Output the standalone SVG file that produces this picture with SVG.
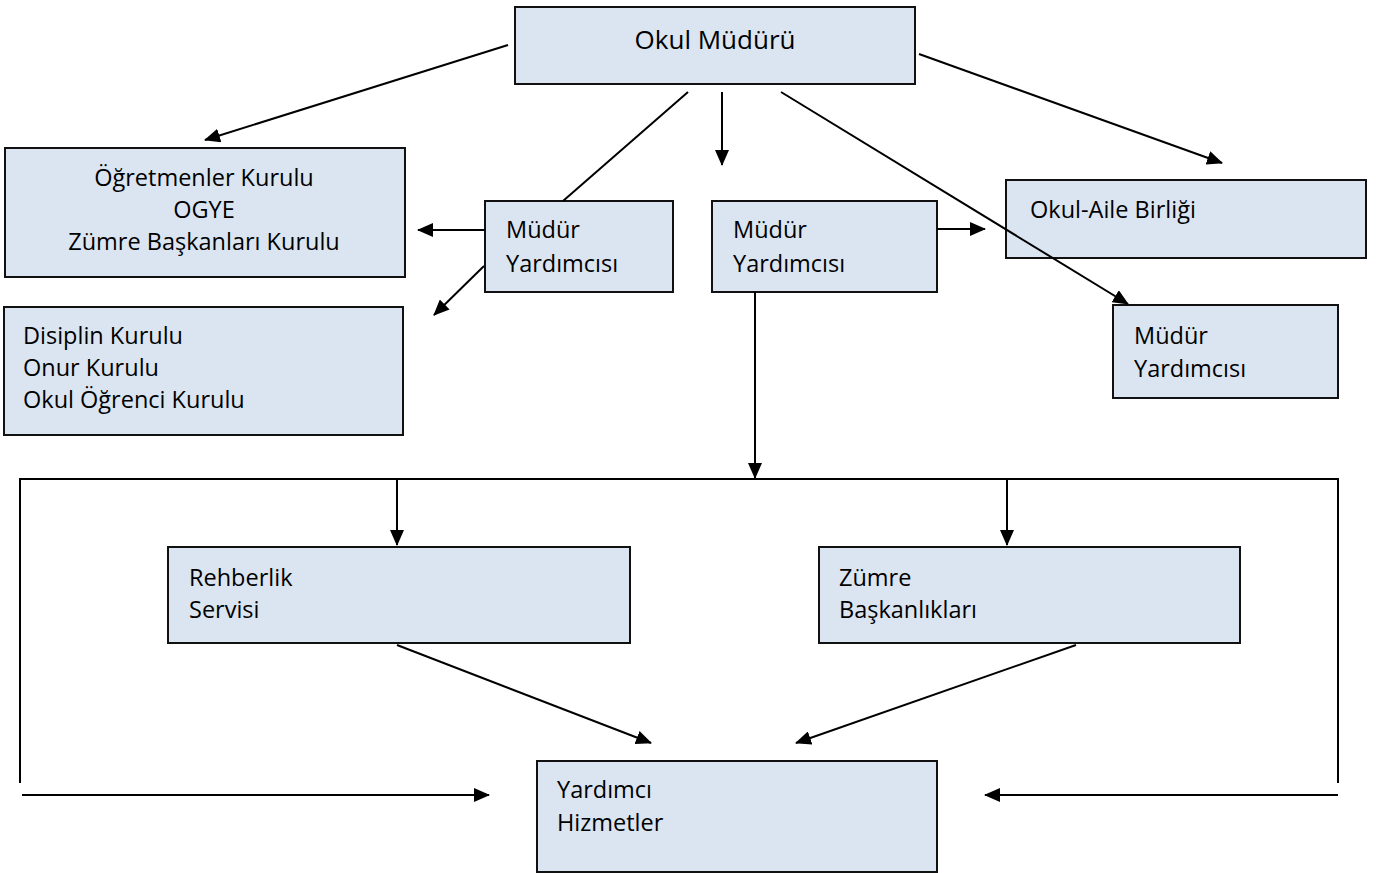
<svg xmlns="http://www.w3.org/2000/svg" width="1379" height="873" viewBox="0 0 1379 873">
<defs>
<marker id="ah" markerUnits="userSpaceOnUse" markerWidth="16" markerHeight="14" refX="15" refY="7" orient="auto">
<path d="M0,0 L16,7 L0,14 z" fill="#000"/>
</marker>
<style>
.box{fill:#dbe5f1;stroke:#111;stroke-width:2}
.t{font-family:"Open Sans","Liberation Sans",sans-serif;font-size:23.5px;fill:#000}
.c{text-anchor:middle}
.ln{stroke:#000;stroke-width:2;fill:none}
.ar{stroke:#000;stroke-width:2;fill:none;marker-end:url(#ah)}
</style>
</defs>
<rect width="1379" height="873" fill="#fff"/>
<g id="okul-muduru">
<rect class="box" x="515" y="7" width="400" height="77"/>
<text class="t c" x="715" y="49" style="font-size:26px">Okul Müdürü</text>
</g>
<g id="ogretmenler-kurulu">
<rect class="box" x="5" y="148" width="400" height="129"/>
<text class="t c" x="204" y="186">Öğretmenler Kurulu</text>
<text class="t c" x="204" y="218">OGYE</text>
<text class="t c" x="204" y="250">Zümre Başkanları Kurulu</text>
</g>
<g id="disiplin-kurulu">
<rect class="box" x="4" y="307" width="399" height="128"/>
<text class="t" x="23" y="344">Disiplin Kurulu</text>
<text class="t" x="23" y="376">Onur Kurulu</text>
<text class="t" x="23" y="408">Okul Öğrenci Kurulu</text>
</g>
<g id="mudur-yardimcisi-1">
<rect class="box" x="485" y="201" width="188" height="91"/>
<text class="t" x="506" y="238">Müdür</text>
<text class="t" x="506" y="272">Yardımcısı</text>
</g>
<g id="mudur-yardimcisi-2">
<rect class="box" x="712" y="201" width="225" height="91"/>
<text class="t" x="733" y="238">Müdür</text>
<text class="t" x="733" y="272">Yardımcısı</text>
</g>
<g id="okul-aile-birligi">
<rect class="box" x="1006" y="180" width="360" height="78"/>
<text class="t" x="1030" y="218">Okul-Aile Birliği</text>
</g>
<g id="mudur-yardimcisi-3">
<rect class="box" x="1113" y="305" width="225" height="93"/>
<text class="t" x="1134" y="344">Müdür</text>
<text class="t" x="1134" y="377">Yardımcısı</text>
</g>
<g id="rehberlik-servisi">
<rect class="box" x="168" y="547" width="462" height="96"/>
<text class="t" x="189" y="586">Rehberlik</text>
<text class="t" x="189" y="618">Servisi</text>
</g>
<g id="zumre-baskanliklari">
<rect class="box" x="819" y="547" width="421" height="96"/>
<text class="t" x="839" y="586">Zümre</text>
<text class="t" x="839" y="618">Başkanlıkları</text>
</g>
<g id="yardimci-hizmetler">
<rect class="box" x="537" y="761" width="400" height="111"/>
<text class="t" x="557" y="798">Yardımcı</text>
<text class="t" x="557" y="831">Hizmetler</text>
</g>
<g id="connectors">
<line class="ar" x1="508" y1="45" x2="205" y2="140"/>
<line class="ln" x1="688" y1="92" x2="563" y2="201"/>
<line class="ar" x1="722" y1="92" x2="722" y2="165"/>
<line class="ar" x1="781" y1="92" x2="1128" y2="304"/>
<line class="ar" x1="919" y1="54" x2="1222" y2="163"/>
<line class="ar" x1="485" y1="230" x2="418" y2="230"/>
<line class="ar" x1="484" y1="266" x2="434" y2="315"/>
<line class="ar" x1="937" y1="229" x2="985" y2="229"/>
<line class="ar" x1="755" y1="292" x2="755" y2="478"/>
<polyline class="ln" points="20,783 20,479 1338,479 1338,783"/>
<line class="ar" x1="397" y1="479" x2="397" y2="545"/>
<line class="ar" x1="1007" y1="479" x2="1007" y2="545"/>
<line class="ar" x1="397" y1="645" x2="651" y2="743"/>
<line class="ar" x1="1076" y1="645" x2="796" y2="743"/>
<line class="ar" x1="22" y1="795" x2="489" y2="795"/>
<line class="ar" x1="1338" y1="795" x2="985" y2="795"/>
</g>
</svg>
